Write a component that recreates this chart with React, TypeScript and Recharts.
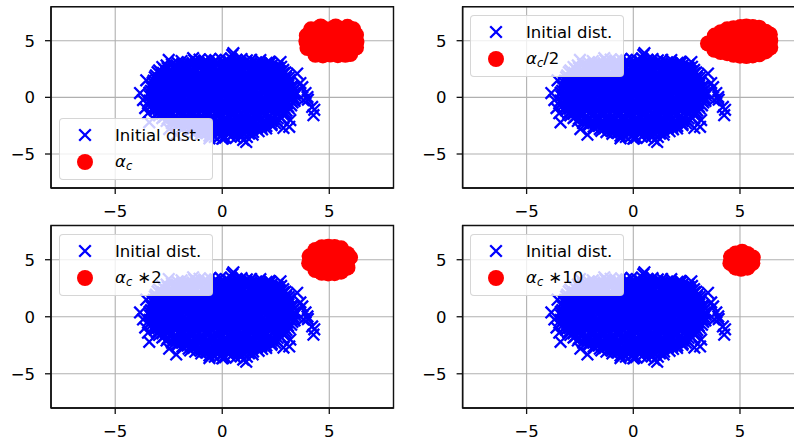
import React from 'react';
import { ScatterChart, Scatter, XAxis, YAxis, CartesianGrid, Legend, ReferenceArea } from 'recharts';

// ---------- data ----------
const xTicks = [-5, 0, 5];
const yTicks = [-5, 0, 5];
const axisDomain: [number, number] = [-8, 8];

const blueLabel = 'Initial dist.';
const redSuffixes = ['', '/2', ' \u22172', ' \u221710'];

// Initial distribution (dense cloud of "x" markers)
const initialDist: [number, number][] = [
  [-0.6,-3.4],[-0.35,-3.5],[-0.1,-3.42],[0.14,-3.55],[0.39,-3.47],[0.63,-3.58],[0.88,-3.43],[1.15,-3.5],
  [-1.5,-2.95],[-1.26,-3.06],[-1.0,-2.98],[-0.77,-3.1],[-0.52,-2.93],[-0.27,-3.04],[-0.03,-2.97],[0.22,-3.08],[0.46,-2.95],[0.71,-3.03],[0.95,-3.12],[1.2,-2.96],[1.44,-3.05],[1.7,-2.99],
  [-2.1,-2.5],[-1.86,-2.6],[-1.61,-2.52],[-1.37,-2.63],[-1.12,-2.48],[-0.88,-2.58],[-0.63,-2.5],[-0.39,-2.62],[-0.14,-2.54],[0.1,-2.47],[0.35,-2.6],[0.59,-2.52],[0.84,-2.64],[1.08,-2.49],[1.33,-2.57],[1.57,-2.51],[1.82,-2.62],[2.06,-2.53],[2.3,-2.46],
  [-2.6,-2.08],[-2.36,-2.17],[-2.11,-2.05],[-1.87,-2.14],[-1.62,-2.02],[-1.38,-2.19],[-1.13,-2.1],[-0.89,-2.0],[-0.64,-2.16],[-0.4,-2.07],[-0.15,-2.13],[0.09,-2.03],[0.34,-2.18],[0.58,-2.09],[0.83,-2.01],[1.07,-2.15],[1.32,-2.06],[1.56,-2.12],[1.81,-2.02],[2.05,-2.17],[2.3,-2.08],[2.56,-2.13],
  [-2.95,-1.6],[-2.71,-1.7],[-2.46,-1.62],[-2.22,-1.73],[-1.97,-1.58],[-1.73,-1.67],[-1.48,-1.61],[-1.24,-1.72],[-0.99,-1.64],[-0.75,-1.55],[-0.5,-1.69],[-0.26,-1.6],[-0.01,-1.71],[0.23,-1.63],[0.48,-1.57],[0.72,-1.68],[0.97,-1.6],[1.21,-1.74],[1.46,-1.62],[1.7,-1.66],[1.95,-1.58],[2.19,-1.7],[2.44,-1.63],[2.68,-1.69],[2.88,-1.6],
  [-3.15,-1.15],[-2.9,-1.25],[-2.66,-1.18],[-2.41,-1.27],[-2.17,-1.12],[-1.92,-1.22],[-1.68,-1.16],[-1.43,-1.28],[-1.19,-1.19],[-0.94,-1.1],[-0.7,-1.24],[-0.45,-1.17],[-0.21,-1.26],[0.04,-1.14],[0.28,-1.21],[0.53,-1.13],[0.77,-1.25],[1.02,-1.18],[1.26,-1.11],[1.51,-1.23],[1.75,-1.16],[2.0,-1.27],[2.24,-1.19],[2.49,-1.12],[2.73,-1.24],[3.0,-1.17],
  [-3.3,-0.7],[-3.06,-0.8],[-2.81,-0.72],[-2.57,-0.83],[-2.32,-0.68],[-2.08,-0.77],[-1.83,-0.71],[-1.59,-0.82],[-1.34,-0.74],[-1.1,-0.65],[-0.85,-0.79],[-0.61,-0.72],[-0.36,-0.81],[-0.12,-0.69],[0.13,-0.76],[0.37,-0.68],[0.62,-0.8],[0.86,-0.73],[1.11,-0.66],[1.35,-0.78],[1.6,-0.71],[1.84,-0.82],[2.09,-0.74],[2.33,-0.67],[2.58,-0.79],[2.82,-0.72],[3.07,-0.8],[3.22,-0.7],
  [-3.4,-0.28],[-3.16,-0.36],[-2.91,-0.25],[-2.67,-0.34],[-2.42,-0.22],[-2.18,-0.32],[-1.93,-0.26],[-1.69,-0.37],[-1.44,-0.29],[-1.2,-0.2],[-0.95,-0.33],[-0.71,-0.27],[-0.46,-0.36],[-0.22,-0.24],[0.03,-0.31],[0.27,-0.23],[0.52,-0.35],[0.76,-0.28],[1.01,-0.21],[1.25,-0.33],[1.5,-0.26],[1.74,-0.37],[1.99,-0.29],[2.23,-0.22],[2.48,-0.34],[2.72,-0.27],[2.97,-0.35],[3.21,-0.25],[3.38,-0.32],
  [-3.38,0.12],[-3.14,0.2],[-2.89,0.1],[-2.65,0.19],[-2.4,0.08],[-2.16,0.17],[-1.91,0.11],[-1.67,0.22],[-1.42,0.14],[-1.18,0.05],[-0.93,0.18],[-0.69,0.12],[-0.44,0.21],[-0.2,0.09],[0.05,0.16],[0.29,0.08],[0.54,0.2],[0.78,0.13],[1.03,0.06],[1.27,0.18],[1.52,0.11],[1.76,0.22],[2.01,0.14],[2.25,0.07],[2.5,0.19],[2.74,0.12],[2.99,0.2],[3.23,0.1],[3.4,0.17],
  [-3.33,0.58],[-3.08,0.66],[-2.84,0.55],[-2.59,0.64],[-2.35,0.53],[-2.1,0.62],[-1.86,0.56],[-1.61,0.67],[-1.37,0.59],[-1.12,0.5],[-0.88,0.63],[-0.63,0.57],[-0.39,0.66],[-0.14,0.54],[0.1,0.61],[0.35,0.53],[0.59,0.65],[0.84,0.58],[1.08,0.51],[1.33,0.63],[1.57,0.56],[1.82,0.67],[2.06,0.59],[2.31,0.52],[2.55,0.64],[2.8,0.57],[3.04,0.65],[3.3,0.55],
  [-3.28,1.03],[-3.04,1.11],[-2.79,1.0],[-2.55,1.09],[-2.3,0.98],[-2.06,1.07],[-1.81,1.01],[-1.57,1.12],[-1.32,1.04],[-1.08,0.95],[-0.83,1.08],[-0.59,1.02],[-0.34,1.11],[-0.1,0.99],[0.15,1.06],[0.39,0.98],[0.64,1.1],[0.88,1.03],[1.13,0.96],[1.37,1.08],[1.62,1.01],[1.86,1.12],[2.11,1.04],[2.35,0.97],[2.6,1.09],[2.84,1.02],[3.09,1.1],[3.25,1.0],
  [-3.2,1.48],[-2.95,1.56],[-2.71,1.45],[-2.46,1.54],[-2.22,1.43],[-1.97,1.52],[-1.73,1.46],[-1.48,1.57],[-1.24,1.49],[-0.99,1.4],[-0.75,1.53],[-0.5,1.47],[-0.26,1.56],[-0.01,1.44],[0.23,1.51],[0.48,1.43],[0.72,1.55],[0.97,1.48],[1.21,1.41],[1.46,1.53],[1.7,1.46],[1.95,1.57],[2.19,1.49],[2.44,1.42],[2.68,1.54],[2.93,1.47],[3.15,1.52],
  [-3.1,1.93],[-2.85,2.01],[-2.61,1.9],[-2.36,1.99],[-2.12,1.88],[-1.87,1.97],[-1.63,1.91],[-1.38,2.02],[-1.14,1.94],[-0.89,1.85],[-0.65,1.98],[-0.4,1.92],[-0.16,2.01],[0.09,1.89],[0.33,1.96],[0.58,1.88],[0.82,2.0],[1.07,1.93],[1.31,1.86],[1.56,1.98],[1.8,1.91],[2.05,2.02],[2.29,1.94],[2.54,1.87],[2.78,1.99],[3.0,1.92],
  [-2.95,2.38],[-2.7,2.46],[-2.46,2.35],[-2.21,2.44],[-1.97,2.33],[-1.72,2.42],[-1.48,2.36],[-1.23,2.47],[-0.99,2.39],[-0.74,2.3],[-0.5,2.43],[-0.25,2.37],[-0.01,2.46],[0.24,2.34],[0.48,2.41],[0.73,2.33],[0.97,2.45],[1.22,2.38],[1.46,2.31],[1.71,2.43],[1.95,2.36],[2.2,2.47],[2.44,2.39],[2.69,2.32],[2.85,2.42],
  [-2.6,2.82],[-2.35,2.9],[-2.11,2.8],[-1.86,2.88],[-1.62,2.78],[-1.37,2.87],[-1.13,2.81],[-0.88,2.92],[-0.64,2.84],[-0.39,2.76],[-0.15,2.89],[0.1,2.83],[0.34,2.91],[0.59,2.79],[0.83,2.86],[1.08,2.78],[1.32,2.9],[1.57,2.83],[1.81,2.76],[2.06,2.88],[2.3,2.81],[2.58,2.85],
  [-1.3,3.25],[-1.06,3.33],[-0.81,3.22],[-0.57,3.36],[-0.32,3.28],[-0.08,3.4],[0.17,3.3],[0.41,3.44],[0.66,3.32],[0.9,3.38],[1.15,3.27],[1.35,3.31],
  // in-between rows of the dense core
  [-0.98,-3.22],[-0.72,-3.15],[-0.47,-3.27],[-0.23,-3.18],[0.02,-3.3],[0.26,-3.2],[0.51,-3.26],[0.75,-3.16],[1.0,-3.28],[1.25,-3.21],[1.42,-3.3],
  [-1.82,-2.72],[-1.57,-2.8],[-1.33,-2.7],[-1.08,-2.83],[-0.84,-2.74],[-0.59,-2.79],[-0.35,-2.7],[-0.1,-2.84],[0.14,-2.76],[0.39,-2.69],[0.63,-2.81],[0.88,-2.73],[1.12,-2.86],[1.37,-2.75],[1.61,-2.7],[1.86,-2.82],[2.05,-2.74],
  [-2.35,-2.28],[-2.1,-2.36],[-1.86,-2.25],[-1.61,-2.38],[-1.37,-2.3],[-1.12,-2.22],[-0.88,-2.35],[-0.63,-2.27],[-0.39,-2.39],[-0.14,-2.31],[0.1,-2.24],[0.35,-2.37],[0.59,-2.29],[0.84,-2.21],[1.08,-2.34],[1.33,-2.27],[1.57,-2.38],[1.82,-2.3],[2.06,-2.23],[2.31,-2.35],[2.47,-2.28],
  [-2.8,-1.83],[-2.55,-1.9],[-2.31,-1.8],[-2.06,-1.92],[-1.82,-1.85],[-1.57,-1.77],[-1.33,-1.9],[-1.08,-1.82],[-0.84,-1.94],[-0.59,-1.86],[-0.35,-1.79],[-0.1,-1.91],[0.14,-1.84],[0.39,-1.76],[0.63,-1.89],[0.88,-1.81],[1.12,-1.93],[1.37,-1.85],[1.61,-1.78],[1.86,-1.9],[2.1,-1.83],[2.35,-1.95],[2.59,-1.86],[2.76,-1.8],
  [-3.05,-1.38],[-2.8,-1.45],[-2.56,-1.35],[-2.31,-1.47],[-2.07,-1.4],[-1.82,-1.32],[-1.58,-1.45],[-1.33,-1.37],[-1.09,-1.49],[-0.84,-1.41],[-0.6,-1.34],[-0.35,-1.46],[-0.11,-1.39],[0.14,-1.31],[0.38,-1.44],[0.63,-1.36],[0.87,-1.48],[1.12,-1.4],[1.36,-1.33],[1.61,-1.45],[1.85,-1.38],[2.1,-1.5],[2.34,-1.41],[2.59,-1.34],[2.83,-1.46],[2.97,-1.38],
  [-3.22,-0.93],[-2.98,-1.0],[-2.73,-0.9],[-2.49,-1.02],[-2.24,-0.95],[-2.0,-0.87],[-1.75,-1.0],[-1.51,-0.92],[-1.26,-1.04],[-1.02,-0.96],[-0.77,-0.89],[-0.53,-1.01],[-0.28,-0.94],[-0.04,-0.86],[0.21,-0.99],[0.45,-0.91],[0.7,-1.03],[0.94,-0.95],[1.19,-0.88],[1.43,-1.0],[1.68,-0.93],[1.92,-1.05],[2.17,-0.96],[2.41,-0.89],[2.66,-1.01],[2.9,-0.94],[3.12,-0.98],
  [-3.35,-0.48],[-3.1,-0.55],[-2.86,-0.45],[-2.61,-0.57],[-2.37,-0.5],[-2.12,-0.42],[-1.88,-0.55],[-1.63,-0.47],[-1.39,-0.59],[-1.14,-0.51],[-0.9,-0.44],[-0.65,-0.56],[-0.41,-0.49],[-0.16,-0.41],[0.08,-0.54],[0.33,-0.46],[0.57,-0.58],[0.82,-0.5],[1.06,-0.43],[1.31,-0.55],[1.55,-0.48],[1.8,-0.6],[2.04,-0.51],[2.29,-0.44],[2.53,-0.56],[2.78,-0.49],[3.02,-0.53],[3.28,-0.45],
  [-3.28,-0.03],[-3.03,-0.1],[-2.79,0.0],[-2.54,-0.12],[-2.3,-0.05],[-2.05,0.03],[-1.81,-0.1],[-1.56,-0.02],[-1.32,-0.14],[-1.07,-0.06],[-0.83,0.01],[-0.58,-0.11],[-0.34,-0.04],[-0.09,0.04],[0.15,-0.09],[0.4,-0.01],[0.64,-0.13],[0.89,-0.05],[1.13,0.02],[1.38,-0.1],[1.62,-0.03],[1.87,-0.15],[2.11,-0.06],[2.36,0.01],[2.6,-0.11],[2.85,-0.04],[3.09,-0.08],[3.32,0.0],
  [-3.4,0.42],[-3.16,0.35],[-2.91,0.45],[-2.67,0.33],[-2.42,0.4],[-2.18,0.48],[-1.93,0.35],[-1.69,0.43],[-1.44,0.31],[-1.2,0.39],[-0.95,0.46],[-0.71,0.34],[-0.46,0.41],[-0.22,0.49],[0.03,0.36],[0.27,0.44],[0.52,0.32],[0.76,0.4],[1.01,0.47],[1.25,0.35],[1.5,0.42],[1.74,0.3],[1.99,0.39],[2.23,0.46],[2.48,0.34],[2.72,0.41],[2.97,0.37],[3.21,0.45],[3.36,0.38],
  [-3.3,0.87],[-3.06,0.8],[-2.81,0.9],[-2.57,0.78],[-2.32,0.85],[-2.08,0.93],[-1.83,0.8],[-1.59,0.88],[-1.34,0.76],[-1.1,0.84],[-0.85,0.91],[-0.61,0.79],[-0.36,0.86],[-0.12,0.94],[0.13,0.81],[0.37,0.89],[0.62,0.77],[0.86,0.85],[1.11,0.92],[1.35,0.8],[1.6,0.87],[1.84,0.75],[2.09,0.84],[2.33,0.91],[2.58,0.79],[2.82,0.86],[3.07,0.82],[3.3,0.9],
  [-3.25,1.32],[-3.0,1.25],[-2.76,1.35],[-2.51,1.23],[-2.27,1.3],[-2.02,1.38],[-1.78,1.25],[-1.53,1.33],[-1.29,1.21],[-1.04,1.29],[-0.8,1.36],[-0.55,1.24],[-0.31,1.31],[-0.06,1.39],[0.18,1.26],[0.43,1.34],[0.67,1.22],[0.92,1.3],[1.16,1.37],[1.41,1.25],[1.65,1.32],[1.9,1.2],[2.14,1.29],[2.39,1.36],[2.63,1.24],[2.88,1.31],[3.12,1.27],
  [-3.15,1.77],[-2.9,1.7],[-2.66,1.8],[-2.41,1.68],[-2.17,1.75],[-1.92,1.83],[-1.68,1.7],[-1.43,1.78],[-1.19,1.66],[-0.94,1.74],[-0.7,1.81],[-0.45,1.69],[-0.21,1.76],[0.04,1.84],[0.28,1.71],[0.53,1.79],[0.77,1.67],[1.02,1.75],[1.26,1.82],[1.51,1.7],[1.75,1.77],[2.0,1.65],[2.24,1.74],[2.49,1.81],[2.73,1.69],[2.98,1.76],[3.1,1.72],
  [-3.02,2.22],[-2.77,2.15],[-2.53,2.25],[-2.28,2.13],[-2.04,2.2],[-1.79,2.28],[-1.55,2.15],[-1.3,2.23],[-1.06,2.11],[-0.81,2.19],[-0.57,2.26],[-0.32,2.14],[-0.08,2.21],[0.17,2.29],[0.41,2.16],[0.66,2.24],[0.9,2.12],[1.15,2.2],[1.39,2.27],[1.64,2.15],[1.88,2.22],[2.13,2.1],[2.37,2.19],[2.62,2.26],[2.86,2.14],[2.95,2.2],
  [-2.8,2.67],[-2.55,2.6],[-2.31,2.7],[-2.06,2.58],[-1.82,2.65],[-1.57,2.73],[-1.33,2.6],[-1.08,2.68],[-0.84,2.56],[-0.59,2.64],[-0.35,2.71],[-0.1,2.59],[0.14,2.66],[0.39,2.74],[0.63,2.61],[0.88,2.69],[1.12,2.57],[1.37,2.65],[1.61,2.72],[1.86,2.6],[2.1,2.67],[2.35,2.55],[2.59,2.64],[2.75,2.7],
  [-2.1,3.07],[-1.85,3.0],[-1.61,3.1],[-1.36,2.98],[-1.12,3.05],[-0.87,3.13],[-0.63,3.0],[-0.38,3.08],[-0.14,2.96],[0.11,3.04],[0.35,3.11],[0.6,2.99],[0.84,3.06],[1.09,3.14],[1.33,3.01],[1.58,3.09],[1.82,2.97],[2.07,3.05],[2.22,3.0],
  // scattered outliers around the edge
  [-2.5,3.3],[-1.9,3.2],[-1.36,3.46],[0.52,3.9],[0.47,3.73],[1.78,3.29],[2.2,3.15],[2.72,3.11],
  [-3.84,0.38],[-3.7,-0.24],[-3.6,-0.95],[-3.47,-1.4],[-3.41,-2.2],[-2.48,-2.8],[-2.15,-3.3],
  [-0.6,-3.62],[0.0,-3.65],[0.05,-3.6],[0.98,-3.76],[1.12,-3.94],
  [2.86,-2.7],[3.13,-2.6],[3.18,-2.0],[4.26,-1.57],[4.3,-1.1],[4.2,-0.85],[3.79,-0.24],[4.0,-0.2],[3.98,0.03],[3.89,0.38],[3.74,0.9],[3.65,1.26],[3.5,2.1],[-3.55,1.5]
];

// alpha_c
const redAlpha: [number, number][] = [
  [4.35,3.75],[4.7,3.7],[5.05,3.78],[5.4,3.72],[5.75,3.76],[5.98,3.82],
  [3.98,4.35],[4.3,4.25],[4.65,4.32],[5.0,4.22],[5.35,4.3],[5.7,4.24],[6.05,4.33],[6.25,4.4],
  [3.93,4.92],[4.27,4.85],[4.62,4.95],[4.97,4.88],[5.32,4.97],[5.67,4.86],[6.02,4.93],[6.27,4.9],
  [3.95,5.45],[4.3,5.55],[4.65,5.48],[5.0,5.58],[5.35,5.5],[5.7,5.56],[6.05,5.47],[6.25,5.52],
  [4.15,6.0],[4.5,6.1],[4.85,6.02],[5.2,6.12],[5.55,6.05],[5.9,6.1],[6.12,6.0],
  [4.6,6.25],[5.3,6.25],[5.85,6.22]
];

// alpha_c / 2
const redHalf: [number, number][] = [
  [3.5,4.75],
  [3.8,4.2],[3.8,4.9],[3.82,5.45],
  [4.1,4.0],[4.1,4.6],[4.12,5.2],[4.1,5.75],
  [4.4,3.9],[4.42,4.5],[4.4,5.1],[4.42,5.65],[4.4,6.0],
  [4.7,3.75],[4.7,4.35],[4.72,4.95],[4.7,5.5],[4.7,6.1],
  [5.0,3.68],[5.02,4.3],[5.0,4.9],[5.0,5.5],[5.02,6.2],
  [5.3,3.65],[5.3,4.25],[5.32,4.85],[5.3,5.45],[5.3,6.26],
  [5.6,3.7],[5.6,4.3],[5.6,4.9],[5.62,5.5],[5.6,6.2],
  [5.9,3.8],[5.9,4.4],[5.92,5.0],[5.9,5.6],[5.9,6.15],
  [6.2,4.05],[6.2,4.6],[6.22,5.2],[6.2,5.8],
  [6.42,4.4],[6.42,5.0],[6.4,5.55]
];

// alpha_c * 2
const redDouble: [number, number][] = [
  [4.06,4.7],[4.08,5.3],
  [4.35,4.1],[4.35,4.7],[4.35,5.3],[4.35,5.85],
  [4.65,3.85],[4.65,4.45],[4.65,5.05],[4.65,5.65],[4.65,6.1],
  [4.95,3.8],[4.95,4.4],[4.95,5.0],[4.95,5.6],[4.95,6.14],
  [5.25,3.82],[5.25,4.42],[5.25,5.02],[5.25,5.62],[5.25,6.12],
  [5.55,3.95],[5.55,4.55],[5.55,5.15],[5.55,5.75],[5.55,6.0],
  [5.85,4.3],[5.85,4.9],[5.85,5.5],
  [5.97,5.2]
];

// alpha_c * 10
const redTen: [number, number][] = [
  [4.55,4.7],[4.58,5.25],[4.8,4.3],[4.8,4.95],[4.8,5.55],[5.05,4.2],[5.05,4.8],
  [5.07,5.4],[5.1,5.7],[5.35,4.3],[5.35,4.9],[5.35,5.5],[5.58,4.7],[5.6,5.2]
];

const redSets = [redAlpha, redHalf, redDouble, redTen];

// ---------- styling / layout ----------
const BLUE = '#0000ff';
const RED = '#ff0000';
const FONT = 'DejaVu Sans';

const toPts = (arr: [number, number][]) => arr.map(([x, y]) => ({ x, y }));
const blueData = toPts(initialDist);

const fmt = (v: number) => (v < 0 ? `\u2212${Math.abs(v)}` : `${v}`);

const XMark = (props: any) => {
  const { cx, cy } = props;
  if (cx == null || cy == null) return <g />;
  const h = 5.8;
  return (
    <path
      d={`M${cx - h},${cy - h}L${cx + h},${cy + h}M${cx - h},${cy + h}L${cx + h},${cy - h}`}
      stroke={BLUE}
      strokeWidth={2.3}
      fill="none"
    />
  );
};

const RedDot = (props: any) => {
  const { cx, cy } = props;
  if (cx == null || cy == null) return <g />;
  return <circle cx={cx} cy={cy} r={8} fill={RED} />;
};

const LegendBox = ({ suffix }: { suffix: string }) => (
  <div
    style={{
      position: 'relative',
      width: 154,
      height: 62,
      boxSizing: 'border-box',
      border: '1px solid rgba(204,204,204,0.8)',
      borderRadius: 4,
      background: 'rgba(255,255,255,0.8)',
      fontFamily: FONT,
      fontSize: 16.5,
      color: '#000',
    }}
  >
    <svg width={154} height={62} style={{ position: 'absolute', left: -1, top: -1 }}>
      <XMark cx={26} cy={17} />
      <RedDot cx={26} cy={44} />
    </svg>
    <div style={{ position: 'absolute', left: 55, top: 17 - 11, height: 22, lineHeight: '22px', whiteSpace: 'pre' }}>
      {blueLabel}
    </div>
    <div style={{ position: 'absolute', left: 55, top: 43 - 11, height: 22, lineHeight: '22px', whiteSpace: 'pre' }}>
      <span style={{ fontStyle: 'italic' }}>α</span>
      <span style={{ fontStyle: 'italic', fontSize: '0.7em', position: 'relative', top: '0.3em' }}>c</span>
      <span>{suffix}</span>
    </div>
  </div>
);

const panels = [
  { left: 0, top: 0, width: 400, margin: { top: 6.7, right: 6.5, bottom: 0, left: 11 }, legend: { left: 59, top: 118 } },
  { left: 400, top: 0, width: 410, margin: { top: 6.7, right: 6, bottom: 0, left: 22.6 }, legend: { left: 70, top: 15 } },
  { left: 0, top: 220, width: 400, margin: { top: 5.5, right: 6.5, bottom: 0, left: 11 }, legend: { left: 59, top: 14 } },
  { left: 400, top: 220, width: 410, margin: { top: 5.5, right: 6, bottom: 0, left: 22.6 }, legend: { left: 70, top: 14 } },
];

const tickStyle = { fill: '#000', fontSize: 16.5, fontFamily: FONT };

export default function App() {
  return (
    <div
      style={{
        position: 'fixed',
        left: 0,
        top: 0,
        width: 794,
        height: 445,
        overflow: 'hidden',
        background: '#ffffff',
      }}
    >
      {panels.map((p, i) => (
        <div key={i} style={{ position: 'absolute', left: p.left, top: p.top }}>
          <ScatterChart width={p.width} height={230} margin={p.margin}>
            <CartesianGrid stroke="#b0b0b0" strokeWidth={1.1} />
            <XAxis
              type="number"
              dataKey="x"
              domain={axisDomain}
              ticks={xTicks}
              height={42}
              tickSize={6}
              tickMargin={11}
              tick={tickStyle}
              tickFormatter={fmt}
              axisLine={{ stroke: '#111', strokeWidth: 1.4 }}
              tickLine={{ stroke: '#111', strokeWidth: 1.3 }}
            />
            <YAxis
              type="number"
              dataKey="y"
              domain={axisDomain}
              ticks={yTicks}
              width={40}
              tickSize={6}
              tickMargin={10}
              tick={tickStyle}
              tickFormatter={fmt}
              axisLine={{ stroke: '#111', strokeWidth: 1.4 }}
              tickLine={{ stroke: '#111', strokeWidth: 1.3 }}
            />
            <Scatter name={blueLabel} data={blueData} shape={XMark} isAnimationActive={false} />
            <Scatter name={`alpha_c${redSuffixes[i]}`} data={toPts(redSets[i])} shape={RedDot} isAnimationActive={false} />
            <ReferenceArea x1={-8} x2={8} y1={-8} y2={8} fill="none" fillOpacity={0} stroke="#111" strokeWidth={1.4} />
            <Legend
              layout="horizontal"
              verticalAlign="middle"
              align="center"
              wrapperStyle={{ left: p.legend.left, top: p.legend.top, width: 154, height: 62 }}
              content={() => <LegendBox suffix={redSuffixes[i]} />}
            />
          </ScatterChart>
        </div>
      ))}
    </div>
  );
}
